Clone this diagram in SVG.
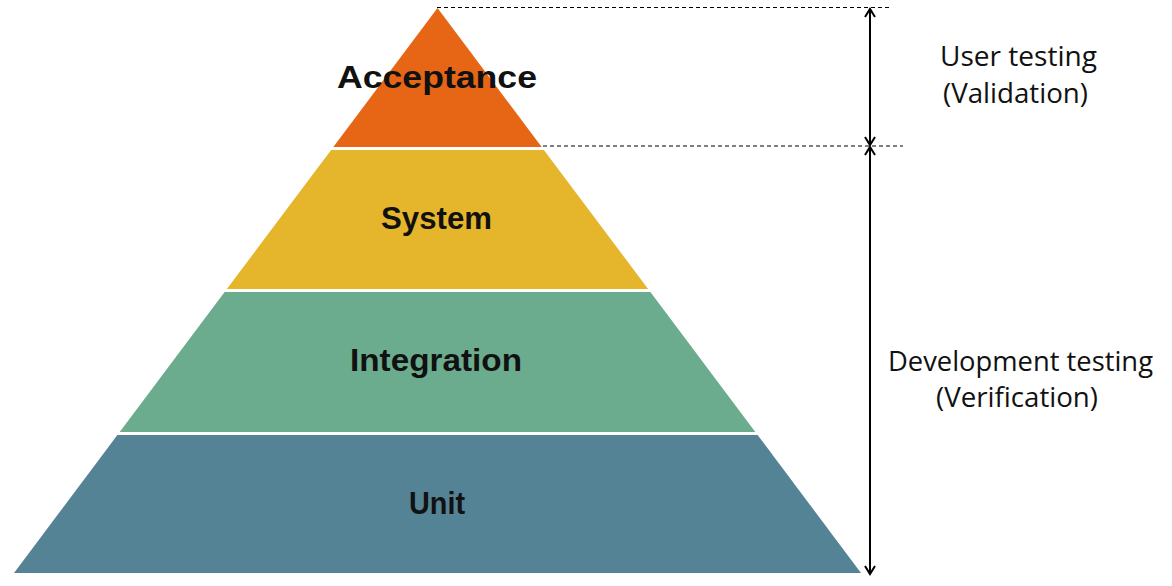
<svg xmlns="http://www.w3.org/2000/svg" width="1172" height="586" viewBox="0 0 1172 586">
  <defs>
    <style>
      .layer-label { font-family: "Liberation Sans", Arial, sans-serif; font-weight: bold; font-size: 32px; fill: #111111; text-anchor: middle; }
      .side-label { font-family: "Open Sans", "Liberation Sans", sans-serif; font-size: 27px; fill: #111111; text-anchor: middle; }
      .dash { stroke: #000000; stroke-width: 1; stroke-dasharray: 4 3; fill: none; }
      .dim { stroke: #000000; stroke-width: 2; fill: none; marker-start: url(#arrow); marker-end: url(#arrow); }
    </style>
    <marker id="arrow" viewBox="-10 -7 12 14" refX="0" refY="0" markerWidth="12" markerHeight="14" markerUnits="userSpaceOnUse" orient="auto-start-reverse" overflow="visible">
      <path d="M-8,-5 L0,0 L-8,5" fill="none" stroke="#000000" stroke-width="2"/>
    </marker>
  </defs>
  <rect width="1172" height="586" fill="#ffffff"/>

  <g id="acceptance">
    <polygon points="437.5,8 541.7,147 333.3,147" fill="#E66616"/>
    <text class="layer-label" x="437" y="88" textLength="200" lengthAdjust="spacingAndGlyphs">Acceptance</text>
  </g>
  <g id="system">
    <polygon points="331.1,150 543.9,150 648.1,289 226.9,289" fill="#E5B62B"/>
    <text class="layer-label" x="436.5" y="229" textLength="111" lengthAdjust="spacingAndGlyphs">System</text>
  </g>
  <g id="integration">
    <polygon points="224.6,292 650.4,292 755.3,432 119.7,432" fill="#6BAB8E"/>
    <text class="layer-label" x="436" y="371" textLength="172" lengthAdjust="spacingAndGlyphs">Integration</text>
  </g>
  <g id="unit">
    <polygon points="117.4,435 757.6,435 861,573 14,573" fill="#548396"/>
    <text class="layer-label" x="437" y="514" textLength="56" lengthAdjust="spacingAndGlyphs">Unit</text>
  </g>

  <g id="connectors">
    <line class="dash" x1="437" y1="7.5" x2="890" y2="7.5"/>
    <line class="dash" x1="543" y1="146" x2="903" y2="146"/>
    <line class="dim" x1="870" y1="9" x2="870" y2="145"/>
    <line class="dim" x1="870" y1="147" x2="870" y2="574"/>
  </g>

  <g id="user-testing">
    <text class="side-label" x="1018.5" y="66" textLength="157" lengthAdjust="spacingAndGlyphs">User testing</text>
    <text class="side-label" x="1015.5" y="103" textLength="145" lengthAdjust="spacingAndGlyphs">(Validation)</text>
  </g>
  <g id="development-testing">
    <text class="side-label" x="1020.5" y="371" textLength="265" lengthAdjust="spacingAndGlyphs">Development testing</text>
    <text class="side-label" x="1017" y="407" textLength="162" lengthAdjust="spacingAndGlyphs">(Verification)</text>
  </g>
</svg>
